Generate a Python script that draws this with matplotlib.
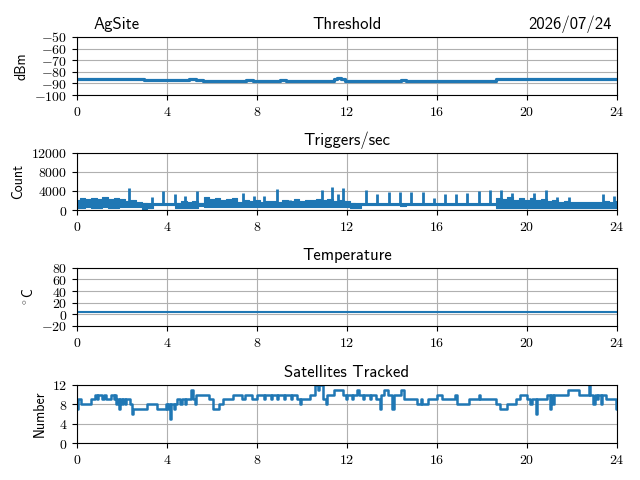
import numpy as np
import matplotlib.pyplot as plt
from matplotlib.ticker import FuncFormatter, MultipleLocator

plt.rcParams['mathtext.fontset'] = 'cm'
plt.rcParams['font.family'] = ['cmss10', 'DejaVu Sans']

SITE = "AgSite"
DATE = "2026/07/24"

# threshold (dBm), step series
thr_t = [0.0, 3.0, 3.8, 5.0, 5.3, 5.6, 7.5, 7.8, 9.0, 9.3, 11.4, 11.55, 11.75, 11.9, 12.5, 14.4, 14.6, 18.6, 24.0]
thr_v = [-86.5, -87.0, -86.8, -86.3, -86.8, -87.5, -87.2, -87.5, -87.2, -87.5, -86.5, -85.0, -86.5, -87.5, -88.0, -87.4, -88.0, -86.5, -86.5]

# triggers/sec: noisy band envelope every 15 min, baseline, spikes
trig_t = np.linspace(0, 24, 97)
trig_hi = [2200, 2500, 2300, 2600, 2300, 2700, 2400, 2600,
           2300, 1900, 2000, 1700, 1500, 1200, 1300, 1300,
           1300, 1250, 1400, 1800, 1700, 1900, 1500, 2700,
           2300, 2500, 2200, 2400, 2600, 1600, 2000, 1800,
           2100, 1700, 1900, 1800, 1700, 2000, 1800, 2300,
           1900, 2200, 2000, 2400, 2100, 2300, 1900, 2200,
           1800, 1500, 1250, 1250, 1250, 1250, 1250, 1250,
           1250, 1250, 1250, 1250, 1250, 1250, 1250, 1250,
           1250, 1250, 1250, 1250, 1250, 1250, 1250, 1250,
           1250, 1250, 1300, 2500, 2300, 2700, 2000, 2600,
           2200, 2500, 2100, 2300, 1900, 2000, 1700, 1800,
           1700, 1600, 1700, 1600, 1700, 1600, 1800, 1700,
           1800]
trig_lo = [500, 450, 550, 500, 450, 550, 500, 450,
           550, 700, 700, 700, 300, 400, 1150, 1150,
           1150, 1150, 500, 500, 500, 500, 900, 600,
           600, 600, 600, 600, 600, 700, 700, 700,
           700, 700, 700, 700, 700, 700, 700, 700,
           700, 700, 700, 700, 700, 700, 700, 700,
           700, 400, 500, 1150, 1150, 1150, 1150, 1150,
           1150, 1150, 800, 1150, 1150, 1150, 1150, 1150,
           1150, 1150, 1150, 1150, 1150, 1150, 1150, 1150,
           1150, 1150, 1150, 350, 350, 350, 350, 350,
           350, 350, 350, 350, 350, 350, 350, 350,
           350, 350, 350, 350, 350, 350, 350, 350,
           350]
trig_base = [1200] * len(trig_t)
spike_t = [2.33, 3.33, 3.81, 4.34, 4.81, 5.33, 5.75, 7.39, 7.88, 8.31, 8.9, 9.47, 10.87, 11.35,
           11.58, 11.84, 12.84, 13.35, 13.85, 14.36, 14.86, 15.36, 15.87, 16.37, 16.86, 17.35,
           17.85, 18.34, 18.86, 19.35, 20.32, 20.86, 21.35, 21.85, 23.36, 23.87]
spike_h = [4600, 2700, 3900, 3300, 3000, 3900, 2500, 3500, 3000, 3000, 4400, 2100, 4300, 4800,
           3400, 4600, 4200, 3300, 3700, 3700, 3700, 3800, 2500, 3300, 3300, 3600,
           3900, 4300, 4100, 3600, 3600, 4100, 2800, 2800, 3400, 3000]

# temperature (C)
temp_t = [0.0, 24.0]
temp_v = [4.0, 4.0]

# satellites tracked: (hour, count) step changes
sat_steps = [
    (0.00, 7), (0.04, 9), (0.20, 8), (0.62, 9), (0.80, 10), (0.90, 9), (0.95, 10), (1.10, 9),
    (1.20, 10), (1.30, 9), (1.50, 10), (1.65, 9), (1.70, 10), (1.75, 8), (1.80, 9), (1.85, 7),
    (1.90, 9), (2.00, 8), (2.05, 9), (2.15, 8), (2.20, 9), (2.35, 8), (2.45, 6), (2.50, 7),
    (3.10, 8), (3.55, 7), (3.95, 8), (4.00, 7), (4.05, 8), (4.15, 5), (4.20, 8), (4.30, 7),
    (4.35, 8), (4.45, 9), (4.60, 8), (4.65, 9), (4.80, 8), (4.85, 9), (5.05, 11), (5.15, 9),
    (5.25, 8), (5.30, 10), (5.85, 9), (6.05, 7), (6.30, 8), (6.50, 9), (6.95, 10), (7.35, 9),
    (7.45, 10), (7.76, 9), (7.98, 10), (8.30, 9), (8.35, 10), (8.60, 9), (8.65, 10), (8.90, 9),
    (8.95, 10), (9.20, 9), (9.25, 10), (9.50, 9), (9.55, 10), (9.76, 9), (9.90, 8), (9.95, 9),
    (10.36, 10), (10.58, 12), (10.70, 11), (10.75, 12), (10.95, 9), (11.05, 8), (11.10, 10),
    (11.40, 11), (11.84, 10), (11.95, 9), (12.00, 10), (12.20, 9), (12.25, 10), (12.45, 11),
    (12.55, 10), (12.70, 9), (12.75, 10), (13.00, 9), (13.05, 10), (13.30, 9), (13.47, 7),
    (13.52, 10), (13.65, 11), (13.80, 10), (14.00, 7), (14.10, 10), (14.40, 11), (14.52, 9),
    (15.10, 8), (15.30, 9), (15.35, 8), (15.60, 9), (16.00, 10), (16.20, 9), (16.80, 10),
    (16.88, 8), (17.40, 9), (17.85, 10), (17.92, 9), (18.60, 8), (18.80, 7), (19.10, 8),
    (19.50, 9), (19.70, 10), (20.00, 9), (20.15, 8), (20.20, 9), (20.38, 6), (20.45, 9),
    (20.90, 10), (21.00, 7), (21.05, 10), (21.15, 8), (21.20, 10), (21.80, 11), (22.30, 10),
    (22.75, 12), (22.82, 10), (22.95, 8), (23.00, 10), (23.10, 9), (23.15, 10), (23.30, 8),
    (23.35, 10), (23.50, 9), (23.95, 7), (24.00, 7),
]
sat_t = [s[0] for s in sat_steps]
sat_v = [s[1] for s in sat_steps]

hours = [0, 4, 8, 12, 16, 20, 24]
mfmt = FuncFormatter(lambda v, p: f'${v:g}$')

fig = plt.figure(figsize=(6.4, 4.8), dpi=100)
rects = [[0.1203, 0.802, 0.8438, 0.121],
         [0.1203, 0.5625, 0.8438, 0.119],
         [0.1203, 0.321, 0.8438, 0.121],
         [0.1203, 0.077, 0.8438, 0.121]]
axs = [fig.add_axes(r) for r in rects]

ax = axs[0]
ax.plot(thr_t, thr_v, drawstyle='steps-post', lw=2.3, color='C0')
ax.set_ylim(-100, -50)
ax.yaxis.set_major_locator(MultipleLocator(10))
ax.set_ylabel('dBm')
ax.set_title('Threshold', fontsize=12)
ax.annotate(SITE, xy=(0.03, 1), xycoords='axes fraction', xytext=(0, 6),
            textcoords='offset points', ha='left', va='baseline', fontsize=12)
ax.annotate(DATE, xy=(0.99, 1), xycoords='axes fraction', xytext=(0, 6),
            textcoords='offset points', ha='right', va='baseline', fontsize=12)

ax = axs[1]
ax.fill_between(trig_t, trig_lo, trig_hi, color='C0', lw=0.8, step='mid')
ax.plot(trig_t, trig_base, color='C0', lw=1.5)
ax.vlines(spike_t, 1200, spike_h, color='C0', lw=2)
ax.set_ylim(0, 12000)
ax.yaxis.set_major_locator(MultipleLocator(4000))
ax.set_ylabel('Count')
ax.set_title('Triggers/sec', fontsize=12)

ax = axs[2]
ax.plot(temp_t, temp_v, color='C0', lw=1.5)
ax.set_ylim(-20, 80)
ax.yaxis.set_major_locator(MultipleLocator(20))
ax.set_ylabel(r'$^\circ$C')
ax.set_title('Temperature', fontsize=12)

ax = axs[3]
ax.plot(sat_t, sat_v, drawstyle='steps-post', lw=1.8, color='C0')
ax.set_ylim(0, 12)
ax.yaxis.set_major_locator(MultipleLocator(4))
ax.set_ylabel('Number')
ax.set_title('Satellites Tracked', fontsize=12)

for ax in axs:
    ax.set_xlim(0, 24)
    ax.set_xticks(hours)
    ax.xaxis.set_major_formatter(mfmt)
    ax.yaxis.set_major_formatter(mfmt)
    ax.grid(True)
    ax.set_axisbelow(True)

plt.savefig('out.png', dpi=100)
